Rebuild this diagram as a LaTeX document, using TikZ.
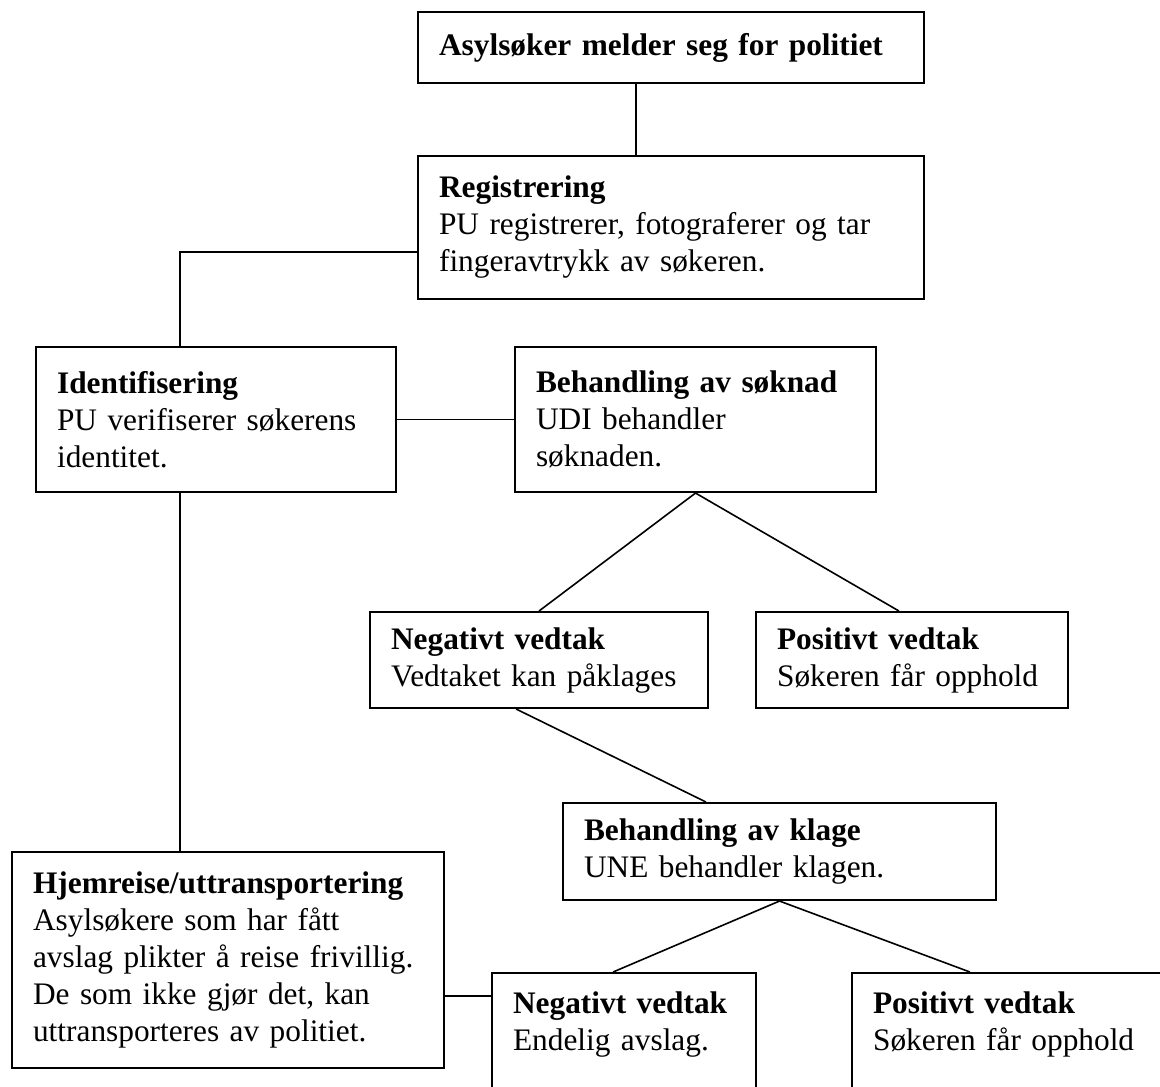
\documentclass[tikz,border=0pt]{standalone}
\usepackage{fontspec}
\setmainfont{Liberation Serif}
\begin{document}
\begin{tikzpicture}[x=0.375pt, y=-0.375pt,
  stage/.style={draw, line width=0.75pt, align=left, inner xsep=7.9pt, inner ysep=4pt, font=\fontsize{11.75}{13.875}\selectfont},
  cutstage/.style={stage, anchor=north west, text height=11pt, text depth=60pt},
  link/.style={line width=0.6pt}]
\useasboundingbox (0,0) rectangle (1160,1086);
%%%%%%%%%%%%%%%%%%%%%%%%%%%%%%% stages of the asylum process
\node[stage, text width=173.95pt, minimum height=26.6pt](meld) at (671,47.5){\textbf{Asylsøker melder seg for politiet}};
\node[stage, text width=173.95pt, minimum height=53.6pt](reg) at (671,227.5){\textbf{Registrering}\\PU registrerer, fotograferer og tar\\fingeravtrykk av søkeren.};
\node[stage, text width=119.2pt, minimum height=54.4pt](ident) at (216,419.5){\textbf{Identifisering}\\PU verifiserer søkerens\\identitet.};
\node[stage, text width=119.6pt, minimum height=54.4pt](soknad) at (695.5,419.5){\textbf{Behandling av søknad}\\UDI behandler\\søknaden.};
\node[stage, text width=110.95pt, minimum height=36pt](neg1) at (539,660){\textbf{Negativt vedtak}\\Vedtaket kan påklages};
\node[stage, text width=101.2pt, minimum height=36pt](pos1) at (912,660){\textbf{Positivt vedtak}\\Søkeren får opphold};
\node[stage, text width=146.6pt, minimum height=36.4pt](klage) at (779.5,851.5){\textbf{Behandling av klage}\\UNE behandler klagen.};
\node[stage, text width=146.2pt, minimum height=81pt](hjem) at (228,960){\textbf{Hjemreise/uttransportering}\\Asylsøkere som har fått\\avslag plikter å reise frivillig.\\De som ikke gjør det, kan\\uttransporteres av politiet.};
\node[cutstage, text width=83.2pt](neg2) at (491,972){\textbf{Negativt vedtak}\\Endelig avslag.};
\node[cutstage, text width=115.2pt](pos2) at (851,972){\textbf{Positivt vedtak}\\Søkeren får opphold};
%%%%%%%%%%%%%%%%%%%%%%%%%%%%%%% connections
\draw[link] ([xshift=-13.1pt]meld.south) -- ([xshift=-13.1pt]reg.north);
\draw[link] ([yshift=-9.2pt]reg.west) -| ([xshift=-13.5pt]ident.north);
\draw[link] (ident.east) -- (soknad.west);
\draw[link] ([xshift=-13.5pt]ident.south) -- ([xshift=-18pt]hjem.north);
\draw[link] (soknad.south) -- (neg1.north);
\draw[link] (soknad.south) -- ([xshift=-4.9pt]pos1.north);
\draw[link] ([xshift=-8.6pt]neg1.south) -- ([xshift=-27.6pt]klage.north);
\draw[link] (klage.south) -- ([xshift=-4.1pt]neg2.north);
\draw[link] (klage.south) -- ([xshift=44.6pt]pos2.north west);
\coordinate(hjemout) at ([yshift=-13.5pt]hjem.east);
\draw[link] (hjemout) -- (hjemout -| neg2.west);
\end{tikzpicture}
\end{document}
